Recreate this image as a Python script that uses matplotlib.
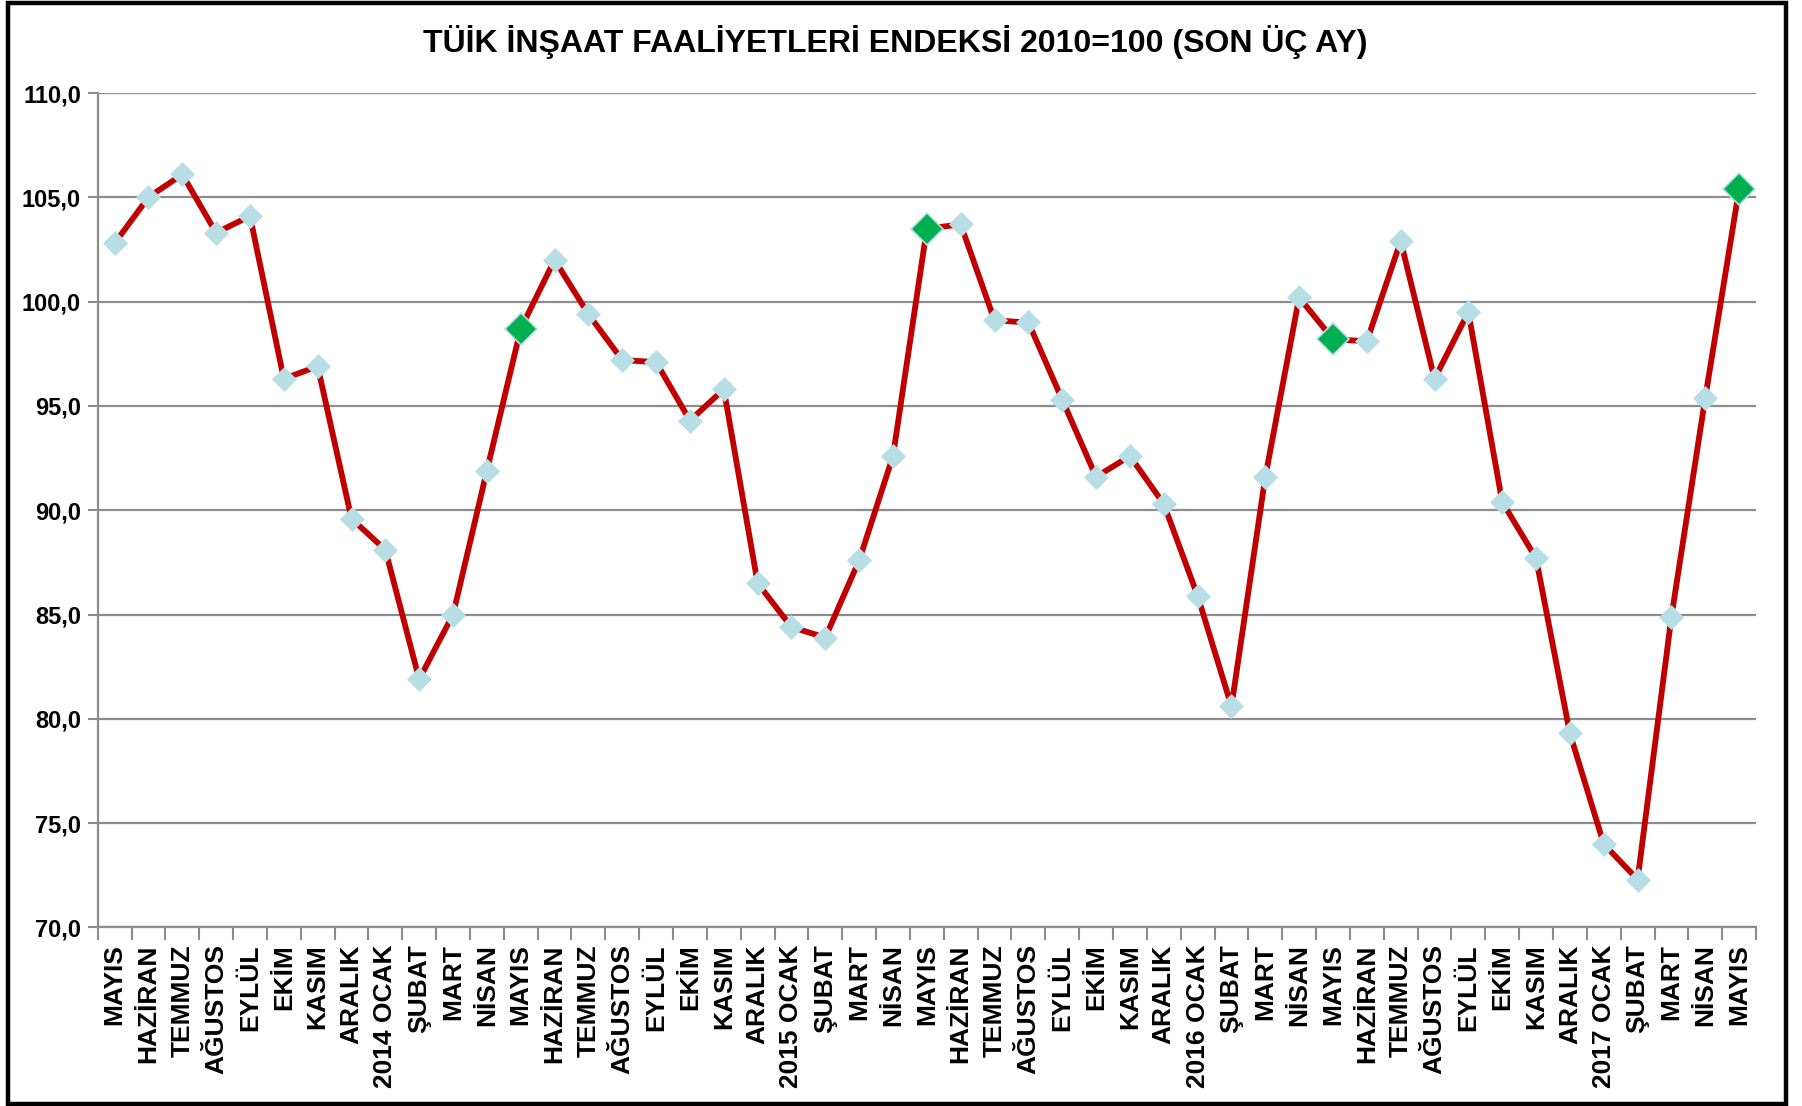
# -*- coding: utf-8 -*-
"""
TÜİK inşaat faaliyetleri endeksi (2010=100) - son üç ay vurgulu çizgi grafik
"""

import matplotlib
matplotlib.use("Agg")
import matplotlib.pyplot as plt
from matplotlib.patches import Rectangle
from matplotlib.ticker import FuncFormatter

# ==============================================================================
# 1. Data
# ==============================================================================
months = [
    "MAYIS", "HAZİRAN", "TEMMUZ", "AĞUSTOS", "EYLÜL", "EKİM", "KASIM", "ARALIK",
    "2014 OCAK", "ŞUBAT", "MART", "NİSAN",
    "MAYIS", "HAZİRAN", "TEMMUZ", "AĞUSTOS", "EYLÜL", "EKİM", "KASIM", "ARALIK",
    "2015 OCAK", "ŞUBAT", "MART", "NİSAN",
    "MAYIS", "HAZİRAN", "TEMMUZ", "AĞUSTOS", "EYLÜL", "EKİM", "KASIM", "ARALIK",
    "2016 OCAK", "ŞUBAT", "MART", "NİSAN",
    "MAYIS", "HAZİRAN", "TEMMUZ", "AĞUSTOS", "EYLÜL", "EKİM", "KASIM", "ARALIK",
    "2017 OCAK", "ŞUBAT", "MART", "NİSAN",
    "MAYIS",
]

index_values = [
    102.8, 105.0, 106.1, 103.3, 104.1, 96.3, 96.9, 89.6,
    88.1, 81.9, 85.0, 91.9,
    98.7, 102.0, 99.4, 97.2, 97.1, 94.3, 95.8, 86.5,
    84.4, 83.9, 87.6, 92.6,
    103.5, 103.7, 99.1, 99.0, 95.3, 91.6, 92.6, 90.3,
    85.9, 80.6, 91.6, 100.2,
    98.2, 98.1, 102.9, 96.3, 99.5, 90.4, 87.7, 79.3,
    74.0, 72.3, 84.9, 95.4,
    105.4,
]

# positions of the highlighted (yearly May) points
highlight_idx = [12, 24, 36, 48]

y_ticks = [70, 75, 80, 85, 90, 95, 100, 105, 110]

title = "TÜİK İNŞAAT FAALİYETLERİ ENDEKSİ 2010=100 (SON ÜÇ AY)"

# ==============================================================================
# 2. Style
# ==============================================================================
plt.rcParams["font.family"] = ["Liberation Sans", "DejaVu Sans"]
plt.rcParams["font.weight"] = "bold"

LINE_RED = "#C00000"
MARKER_BLUE = "#B7DEE5"
MARKER_GREEN = "#00B050"
GRID_GRAY = "#8C8C8C"

# ==============================================================================
# 3. Plot
# ==============================================================================
fig = plt.figure(figsize=(18.02, 11.06), dpi=100)
ax = fig.add_axes([0.0542, 0.1614, 0.9203, 0.7545])

x = list(range(len(index_values)))
ax.plot(x, index_values, color=LINE_RED, linewidth=4.2, zorder=3,
        marker="D", markersize=12, markerfacecolor=MARKER_BLUE,
        markeredgecolor=MARKER_BLUE, markeredgewidth=0.5)

hx = [x[i] for i in highlight_idx]
hy = [index_values[i] for i in highlight_idx]
ax.plot(hx, hy, linestyle="none", marker="D", markersize=16.5,
        markerfacecolor=MARKER_GREEN, markeredgecolor=MARKER_BLUE,
        markeredgewidth=1.2, zorder=4)

# axes limits: category slots like Excel (points between ticks)
ax.set_xlim(-0.5, len(index_values) - 0.5)
ax.set_ylim(70, 110)

ax.set_yticks(y_ticks)
ax.yaxis.set_major_formatter(FuncFormatter(lambda v, p: f"{v:.1f}".replace(".", ",")))
ax.set_xticks(x)
ax.set_xticklabels(months, rotation=90, fontsize=19, fontweight="bold")
ax.set_xticks([i - 0.5 for i in range(len(index_values) + 1)], minor=True)

ax.tick_params(axis="y", labelsize=17, length=7, width=1.5, color=GRID_GRAY, pad=5)
ax.tick_params(axis="x", which="major", length=0, pad=12)
ax.tick_params(axis="x", which="minor", length=9, width=1.5, color=GRID_GRAY)

ax.grid(axis="y", color=GRID_GRAY, linewidth=1.6, zorder=1)
ax.set_axisbelow(True)

for side in ["top", "right"]:
    ax.spines[side].set_visible(False)
for side in ["left", "bottom"]:
    ax.spines[side].set_color(GRID_GRAY)
    ax.spines[side].set_linewidth(1.6)

fig.text(0.497, 0.9616, title, ha="center", va="center",
         fontsize=23, fontweight="bold")

# outer black frame
fig.add_artist(Rectangle((0.0045, 0.002), 0.9865, 0.995, transform=fig.transFigure,
                         fill=False, edgecolor="black", linewidth=3.2))

fig.savefig("out.png", dpi=100)
plt.close(fig)
